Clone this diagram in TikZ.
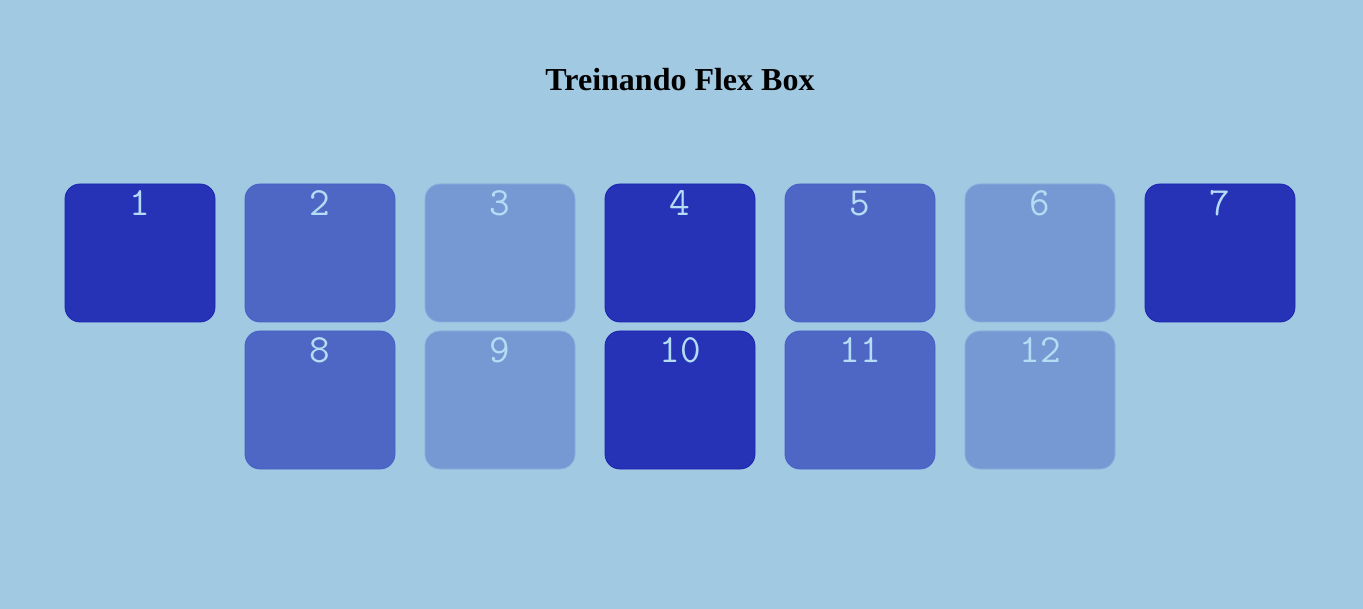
\documentclass[tikz,border=0pt]{standalone}
\usepackage{fontspec}
\setmainfont{Liberation Serif}
\definecolor{bg}{HTML}{A1C9E2}
\definecolor{cdark}{HTML}{2633B7}
\definecolor{cmid}{HTML}{4E67C4}
\definecolor{clight}{HTML}{7799D3}
\definecolor{bdark}{HTML}{1A24B0}
\definecolor{bmid}{HTML}{4560C8}
\definecolor{blight}{HTML}{8AAEDD}
\definecolor{numc}{HTML}{B4DDF5}
\tikzset{
  card/.style={rounded corners=15pt, line width=0.8pt},
  numlabel/.style={anchor=base, text=numc, font=\ttfamily\fontsize{40}{40}\selectfont, inner sep=0pt},
}
\begin{document}
\begin{tikzpicture}[x=1pt,y=-1pt]
\fill[bg] (0,0) rectangle (1363,609);
\useasboundingbox (0,0) rectangle (1363,609);
\node[anchor=base, inner sep=0pt, font=\bfseries\fontsize{32}{32}\selectfont] (title) at (680,91) {Treinando Flex Box};
% row 1
\foreach \i/\c in {1/dark,2/mid,3/light,4/dark,5/mid,6/light,7/dark}{
  \pgfmathsetmacro{\xx}{65+180*(\i-1)}
  \draw[card, fill=c\c, draw=b\c] (\xx,184) rectangle ++(150,138);
  \node[numlabel] (n\i) at (\xx+75,216) {\i};
}
% row 2
\foreach \i/\c/\k in {8/mid/1,9/light/2,10/dark/3,11/mid/4,12/light/5}{
  \pgfmathsetmacro{\xx}{65+180*\k}
  \draw[card, fill=c\c, draw=b\c] (\xx,331) rectangle ++(150,138);
  \node[numlabel] (n\i) at (\xx+75,363) {\i};
}
\end{tikzpicture}
\end{document}
